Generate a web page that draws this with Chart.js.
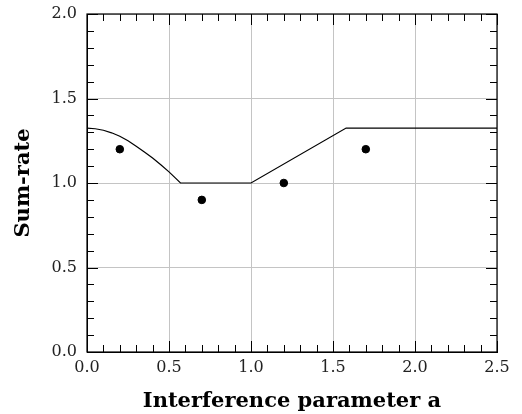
<!DOCTYPE html>
<html>
<head>
<meta charset="utf-8">
<script src="https://cdn.jsdelivr.net/npm/chart.js@4.4.1/dist/chart.umd.min.js"></script>
<style>
  html, body { margin: 0; padding: 0; background: #fff; }
  #wrap { width: 522px; height: 414px; }
</style>
</head>
<body>
<div id="wrap"><canvas id="chart" width="522" height="414"></canvas></div>
<script>
'use strict';

// bound curve
const curveA   = [0, 0.05, 0.1, 0.15, 0.2, 0.25, 0.3, 0.35, 0.4, 0.45, 0.5, 0.535, 0.57, 1.0, 1.58, 2.5];
const curveSum = [1.325, 1.321, 1.312, 1.297, 1.277, 1.25, 1.218, 1.184, 1.148, 1.108, 1.066, 1.033, 1.0, 1.0, 1.325, 1.325];

// achievable points
const dotA   = [0.2, 0.7, 1.2, 1.7];
const dotSum = [1.2, 0.9, 1.0, 1.2];

const xTicks = [0, 0.5, 1.0, 1.5, 2.0, 2.5];
const yTicks = [0, 0.5, 1.0, 1.5, 2.0];

const SERIF = "'DejaVu Serif', 'Liberation Serif', serif";

// frame + inward minor/major ticks on all four sides
const frameTicks = {
  id: 'frameTicks',
  afterDatasetsDraw(chart) {
    const { ctx, chartArea: a, scales: { x, y } } = chart;
    ctx.save();
    ctx.strokeStyle = '#000';
    ctx.lineWidth = 1;
    ctx.beginPath();
    for (let i = 0; i <= 25; i++) {
      const px = Math.round(x.getPixelForValue(i / 10)) + 0.5;
      const len = i % 5 === 0 ? 11 : 7;
      ctx.moveTo(px, a.bottom); ctx.lineTo(px, a.bottom - len);
      ctx.moveTo(px, a.top); ctx.lineTo(px, a.top + len);
    }
    for (let i = 0; i <= 20; i++) {
      const py = Math.round(y.getPixelForValue(i / 10)) + 0.5;
      const len = i % 5 === 0 ? 11 : 7;
      ctx.moveTo(a.left, py); ctx.lineTo(a.left + len, py);
      ctx.moveTo(a.right, py); ctx.lineTo(a.right - len, py);
    }
    ctx.stroke();
    ctx.lineWidth = 1.2;
    ctx.strokeRect(a.left, a.top, a.right - a.left, a.bottom - a.top);
    ctx.restore();
  }
};

new Chart(document.getElementById('chart'), {
  type: 'scatter',
  data: {
    datasets: [
      {
        label: 'bound',
        data: curveA.map((v, i) => ({ x: v, y: curveSum[i] })),
        showLine: true,
        borderColor: '#000',
        borderWidth: 1.2,
        pointRadius: 0,
        tension: 0
      },
      {
        label: 'achievable',
        data: dotA.map((v, i) => ({ x: v, y: dotSum[i] })),
        backgroundColor: '#000',
        borderColor: '#000',
        pointRadius: 3.8
      }
    ]
  },
  options: {
    responsive: false,
    animation: false,
    layout: { padding: { left: 0, right: 25, top: 14, bottom: 0 } },
    plugins: { legend: { display: false }, tooltip: { enabled: false } },
    scales: {
      x: {
        type: 'linear',
        min: 0, max: 2.5,
        afterBuildTicks: s => { s.ticks = xTicks.map(v => ({ value: v })); },
        afterFit: s => { s.height = 62; s.paddingLeft = 0; s.paddingRight = 0; },
        grid: { color: '#c4c4c4', drawTicks: false },
        border: { color: '#000' },
        ticks: {
          padding: 6,
          color: '#222',
          font: { family: SERIF, size: 16 },
          callback: v => v.toFixed(1)
        },
        title: {
          display: true,
          text: 'Interference parameter a',
          color: '#000',
          font: { family: SERIF, size: 21, weight: 'bold' },
          padding: { top: 4, bottom: 0 }
        }
      },
      y: {
        type: 'linear',
        min: 0, max: 2,
        afterBuildTicks: s => { s.ticks = yTicks.map(v => ({ value: v })); },
        afterFit: s => { s.width = 87; s.paddingTop = 0; s.paddingBottom = 0; },
        grid: { color: '#c4c4c4', drawTicks: false },
        border: { color: '#000' },
        ticks: {
          padding: 10,
          color: '#222',
          font: { family: SERIF, size: 16 },
          callback: v => v.toFixed(1)
        },
        title: {
          display: true,
          text: 'Sum-rate',
          color: '#000',
          font: { family: SERIF, size: 21, weight: 'bold' },
          padding: { top: 11, bottom: 4 }
        }
      }
    }
  },
  plugins: [frameTicks]
});
</script>
</body>
</html>
